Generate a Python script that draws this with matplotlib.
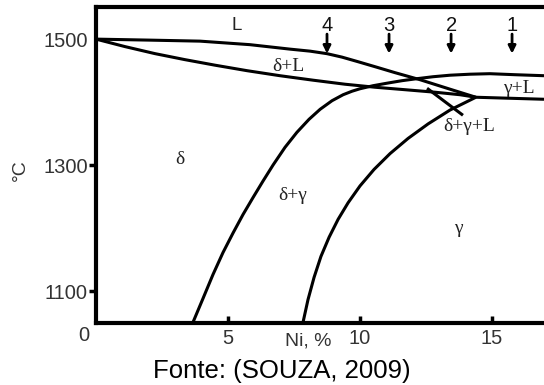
import matplotlib
matplotlib.use("Agg")
import matplotlib.pyplot as plt

# Fe-Ni phase boundaries, Ni (%) against temperature (°C)
liq_delta_ni = [0, 2.05, 3.94, 5.83, 7.35, 8.11, 8.75, 9.32, 9.92, 10.57, 11.33, 12.27, 13.41, 14.39]
liq_delta_t = [1500, 1498.4, 1496.8, 1491.2, 1484.1, 1480.9, 1476.9, 1471.4, 1464.2, 1456.2,
               1446.7, 1435.6, 1420.5, 1407.7]

sol_ni = [0, 1.10, 2.23, 3.37, 4.51, 5.72, 6.97, 8.22, 9.43, 10.57, 11.70, 12.84, 13.79,
          14.39, 15.68, 16.97]
sol_t = [1500, 1488.1, 1477.0, 1467.4, 1458.6, 1449.9, 1441.9, 1434.8, 1428.4, 1423.6,
         1419.7, 1415.7, 1411.7, 1407.7, 1406.1, 1404.5]

delta_gamma_ni = [3.67, 4.05, 4.43, 4.81, 5.19, 5.57, 5.95, 6.33, 6.71, 7.16, 7.61, 8.07,
                  8.49, 8.94, 9.36, 9.70, 10.0, 10.49, 11.02, 11.59, 12.16, 12.77, 13.41,
                  14.17, 14.92, 15.87, 16.97]
delta_gamma_t = [1050, 1087.9, 1126.1, 1161.1, 1192.1, 1221.6, 1248.6, 1274.9, 1300.3,
                 1328.2, 1352.0, 1372.7, 1388.6, 1402.2, 1411.7, 1417.3, 1421.2, 1426.0,
                 1430.0, 1434.0, 1437.2, 1440.3, 1442.7, 1444.3, 1445.1, 1443.5, 1441.9]

gamma_ni = [7.84, 8.03, 8.26, 8.52, 8.83, 9.17, 9.55, 10.0, 10.53, 11.14, 11.82, 12.58,
            13.41, 14.39]
gamma_t = [1050, 1086.3, 1121.7, 1154.9, 1185.5, 1213.8, 1240.2, 1266.9, 1293.0, 1318.3,
           1342.3, 1365.4, 1387.4, 1407.7]

leader_ni = [12.54, 13.90]
leader_t = [1422.0, 1379.1]

# alloy compositions marked by arrows along the top
alloy_ni = [15.76, 13.45, 11.1, 8.75]
alloy_names = ["1", "2", "3", "4"]

regions = ["δ+L", "γ+L", "δ+γ+L", "δ", "δ+γ", "γ"]
region_ni = [7.27, 16.02, 14.13, 3.18, 7.46, 13.71]
region_t = [1457, 1422, 1361, 1309, 1252, 1199]

y_ticks = [1100, 1300, 1500]
x_ticks = [5, 10, 15]

plt.rcParams["font.family"] = ["Liberation Sans", "DejaVu Sans"]

fig = plt.figure(figsize=(5.44, 3.85), dpi=100)
ax = fig.add_axes([0.1765, 0.1623, 0.8235, 0.8195])
ax.set_xlim(0, 16.97)
ax.set_ylim(1050, 1551)

for xs, ys in [(liq_delta_ni, liq_delta_t), (sol_ni, sol_t),
               (delta_gamma_ni, delta_gamma_t), (gamma_ni, gamma_t),
               (leader_ni, leader_t)]:
    ax.plot(xs, ys, color="black", lw=2.2, solid_capstyle="butt",
            solid_joinstyle="round", clip_on=False)

for x, name in zip(alloy_ni, alloy_names):
    ax.annotate("", xy=(x, 1477), xytext=(x, 1508),
                arrowprops=dict(arrowstyle="-|>", color="black", lw=2.0,
                                mutation_scale=11, shrinkA=0, shrinkB=0))
    ax.text(x, 1522, name, ha="center", va="center", fontsize=14.5, color="#111")

ax.text(5.34, 1522, "L", ha="center", va="center", fontsize=13.5, color="#222")
for name, x, t in zip(regions, region_ni, region_t):
    ax.text(x, t, name, ha="center", va="center", fontsize=14,
            family=["Liberation Serif", "DejaVu Serif"], color="#222")

for side in ["left", "bottom", "top"]:
    ax.spines[side].set_linewidth(3.0)
ax.spines["right"].set_visible(False)

ax.set_yticks(y_ticks)
ax.set_xticks(x_ticks)
ax.tick_params(axis="y", direction="out", length=5, width=2.5, pad=1,
               labelsize=14.5, labelcolor="#333")
ax.tick_params(axis="x", direction="in", length=5, width=2.5, pad=5,
               labelsize=14.5, labelcolor="#333")
ax.yaxis.get_major_ticks()[-1].tick1line.set_visible(False)

ax.text(-0.028, -0.04, "0", transform=ax.transAxes, ha="center", va="center",
        fontsize=14.5, color="#333")
ax.text(8.03, 1034, "Ni, %", ha="center", va="top", fontsize=14, color="#333")
fig.text(20 / 544, 1 - 170 / 385, "°C", rotation=90, ha="center", va="center",
         fontsize=14, color="#333")
fig.text(282 / 544, 1 - 371 / 385, "Fonte: (SOUZA, 2009)", ha="center",
         va="center", fontsize=18.5, color="black")

fig.savefig("out.png", dpi=100)
